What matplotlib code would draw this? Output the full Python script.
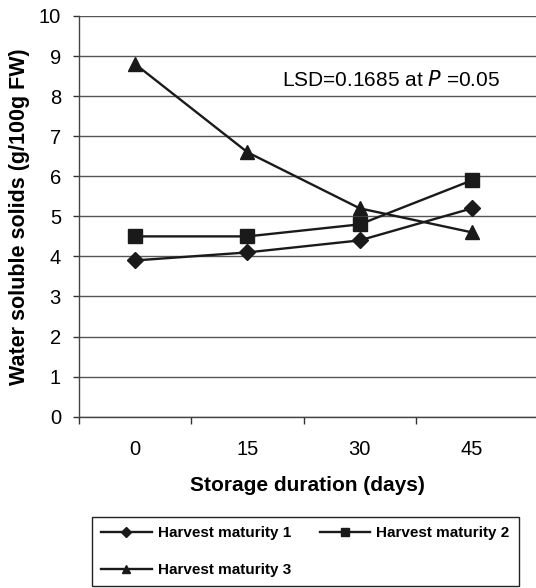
import matplotlib
matplotlib.use("Agg")
import matplotlib.pyplot as plt

plt.rcParams['font.family'] = ['Liberation Sans', 'DejaVu Sans']

# data
days = ['0', '15', '30', '45']
hm1 = [3.9, 4.1, 4.4, 5.2]
hm2 = [4.5, 4.5, 4.8, 5.9]
hm3 = [8.8, 6.6, 5.2, 4.6]
labels = ['Harvest maturity 1', 'Harvest maturity 2', 'Harvest maturity 3']


def main():
    fig = plt.figure(figsize=(5.36, 5.88), dpi=100)
    ax = fig.add_axes([0.1474, 0.2913, 0.8526, 0.6815])

    x = list(range(len(days)))
    col = '#1a1a1a'
    h1, = ax.plot(x, hm1, '-D', color=col, lw=1.7, ms=8, label=labels[0])
    h2, = ax.plot(x, hm2, '-s', color=col, lw=1.7, ms=9.5, label=labels[1])
    h3, = ax.plot(x, hm3, '-^', color=col, lw=1.7, ms=10, label=labels[2])

    # Format axes
    ax.set_ylim(0, 10)
    ax.set_yticks(range(0, 11))
    ax.set_xlim(-0.5, 3.57)
    ax.set_xticks([-0.5, 0.5, 1.5, 2.5])
    ax.set_xticklabels([])
    ax.set_xticks(x, minor=True)
    ax.set_xticklabels(days, minor=True)
    ax.tick_params(axis='x', which='major', length=5, width=1, color='#333333')
    ax.tick_params(axis='x', which='minor', length=0, pad=17, labelsize=14.5)
    ax.tick_params(axis='y', length=4, width=1, color='#333333', pad=9, labelsize=14.5)

    ax.grid(axis='y', color='#555555', lw=1)
    ax.set_axisbelow(True)
    for s in ['top', 'right']:
        ax.spines[s].set_visible(False)
    for s in ['left', 'bottom']:
        ax.spines[s].set_color('#444444')
        ax.spines[s].set_linewidth(1)

    ax.set_xlabel('Storage duration (days)', fontsize=15, fontweight='bold', labelpad=12)
    ax.set_ylabel('Water soluble solids (g/100g FW)', fontsize=15.5, fontweight='bold', labelpad=6)

    ax.text(2.28, 8.4, 'LSD=0.1685 at $\\it{P}$ =0.05', fontsize=15, ha='center', va='center')

    leg = fig.legend([h1, h3, h2], [labels[0], labels[2], labels[1]], ncol=2,
                     loc='upper left', bbox_to_anchor=(92 / 536, 1 - 517 / 588),
                     fancybox=False, edgecolor='#222222', framealpha=1,
                     prop={'weight': 'bold', 'size': 11}, handlelength=3.3,
                     markerscale=0.6, columnspacing=1.9, labelspacing=1.5,
                     borderaxespad=0, handletextpad=0.4, borderpad=0.6)
    leg.get_frame().set_linewidth(1)

    fig.savefig('out.png', dpi=100)


if __name__ == "__main__":
    main()
